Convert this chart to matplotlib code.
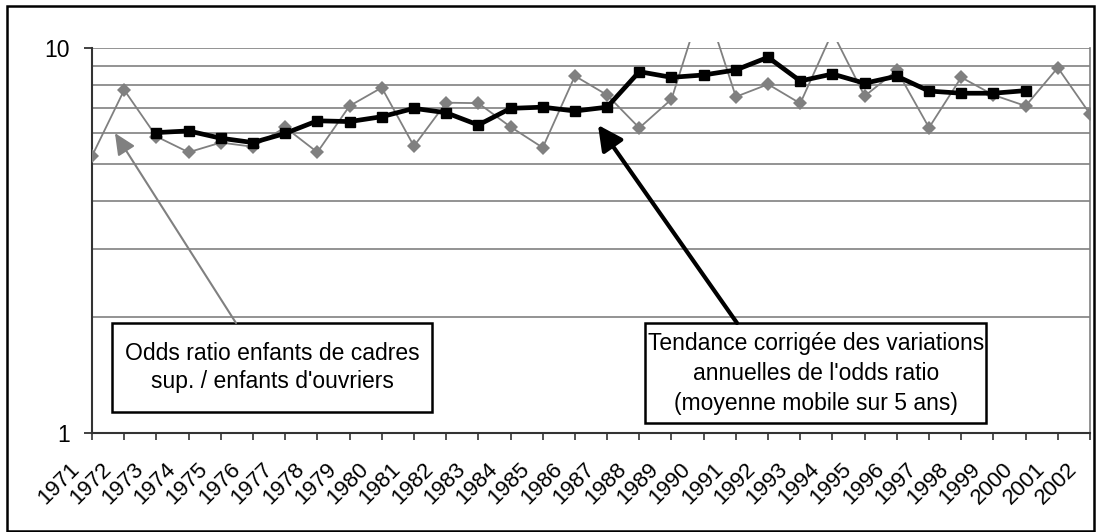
import numpy as np
import matplotlib.pyplot as plt
from matplotlib.patches import Rectangle
from matplotlib.ticker import LogLocator, NullFormatter, FixedLocator
from matplotlib.transforms import ScaledTranslation

plt.rcParams['font.family'] = ['Liberation Sans', 'DejaVu Sans']

# Years on the x axis
years = [str(y) for y in range(1971, 2003)]

# Odds ratio enfants de cadres sup. / enfants d'ouvriers (gray, diamonds)
odds_ratio = [5.24, 7.78, 5.89, 5.36, 5.68, 5.54, 6.22, 5.36, 7.07, 7.89,
              5.56, 7.21, 7.19, 6.24, 5.51, 8.46, 7.55, 6.20, 7.36, 13.5,
              7.47, 8.05, 7.18, 11.0, 7.50, 8.75, 6.21, 8.39, 7.55, 7.07,
              8.89, 6.74]

# Moving average over 5 years (black, squares), 1973-2000
moving_avg = [np.nan, np.nan, 6.03, 6.09, 5.83, 5.68, 6.00, 6.47, 6.44, 6.63,
              6.97, 6.79, 6.31, 6.97, 7.02, 6.86, 7.02, 8.68, 8.39, 8.51,
              8.77, 9.46, 8.21, 8.56, 8.10, 8.45, 7.73, 7.63, 7.63, 7.75,
              np.nan, np.nan]

label_gray = "Odds ratio enfants de cadres\nsup. / enfants d'ouvriers"
label_black = ("Tendance corrigée des variations\nannuelles de l'odds ratio\n"
               "(moyenne mobile sur 5 ans)")

W, H = 1096, 532
fig = plt.figure(figsize=(W / 100, H / 100), dpi=100)
ax = fig.add_axes([92 / W, (H - 433) / H, 998 / W, 385 / H])

x = np.arange(len(years))

# gray series, clipped a little above the plot area like the original
gray_line, = ax.plot(x, odds_ratio, color='#808080', lw=1.3, marker='D',
                     markersize=7, markeredgewidth=0, zorder=3)
clip = Rectangle((0, 0), 1, 1 + 6 / 385, transform=ax.transAxes,
                 facecolor='none', edgecolor='none')
ax.add_patch(clip)
gray_line.set_clip_path(clip)

ax.plot(x, moving_avg, color='black', lw=3.4, marker='s', markersize=6.5,
        zorder=4)

ax.set_yscale('log')
ax.set_ylim(1, 10)
ax.set_xlim(0, len(years) - 1)

# y ticks: only 1 and 10 labelled, gridlines at 2..10
ax.yaxis.set_major_locator(FixedLocator([1, 10]))
ax.set_yticklabels(['1', '10'])
ax.yaxis.set_minor_locator(LogLocator(base=10, subs=np.arange(2, 10)))
ax.yaxis.set_minor_formatter(NullFormatter())
ax.tick_params(axis='y', which='minor', length=0)
ax.tick_params(axis='y', which='major', length=6, width=1.3, pad=10,
               labelsize=16.5, color='#333333')
ax.grid(True, which='both', axis='y', color='#808080', lw=1.2, zorder=0)

ax.set_xticks(x)
ax.set_xticklabels(years, fontsize=16, rotation=45, ha='right', va='center',
                   rotation_mode='anchor')
ax.tick_params(axis='x', length=5, width=1.2, pad=19, color='#333333')
offset = ScaledTranslation(-0.16, 0, fig.dpi_scale_trans)
for lab in ax.get_xticklabels():
    lab.set_transform(lab.get_transform() + offset)

ax.spines['top'].set_visible(False)
ax.spines['right'].set_color('#808080')
ax.spines['right'].set_linewidth(1.2)
for s in ['left', 'bottom']:
    ax.spines[s].set_color('#333333')
    ax.spines[s].set_linewidth(1.5)
ax.set_axisbelow(True)

# text boxes with arrows
ax.add_patch(Rectangle((0.020, 0.054), 0.321, 0.232, transform=ax.transAxes,
                       facecolor='white', edgecolor='black', lw=1.8,
                       clip_on=False, zorder=5))
ax.text(0.1804, 0.170, label_gray, transform=ax.transAxes, ha='center',
        va='center', fontsize=16.5, linespacing=1.32, zorder=6)
ax.annotate('', xy=(0.023, 0.779), xytext=(0.1443, 0.2857),
            xycoords='axes fraction', textcoords='axes fraction',
            arrowprops=dict(arrowstyle='-|>,head_length=0.65,head_width=0.3',
                            mutation_scale=20, color='#808080', lw=1.5,
                            shrinkA=0, shrinkB=0),
            zorder=5)

ax.add_patch(Rectangle((0.554, 0.026), 0.342, 0.260, transform=ax.transAxes,
                       facecolor='white', edgecolor='black', lw=1.8,
                       clip_on=False, zorder=5))
ax.text(0.7255, 0.155, label_black, transform=ax.transAxes, ha='center',
        va='center', fontsize=16.5, linespacing=1.38, zorder=6)
ax.annotate('', xy=(0.507, 0.800), xytext=(0.6463, 0.2857),
            xycoords='axes fraction', textcoords='axes fraction',
            arrowprops=dict(arrowstyle='-|>,head_length=0.75,head_width=0.38',
                            mutation_scale=20, color='black', lw=3,
                            shrinkA=0, shrinkB=0),
            zorder=5)

# outer chart border
fig.patches.append(Rectangle((7 / W, 1 / H), 1087 / W, 525 / H,
                             transform=fig.transFigure, facecolor='none',
                             edgecolor='black', lw=1.8))

fig.savefig('out.png', dpi=100)
